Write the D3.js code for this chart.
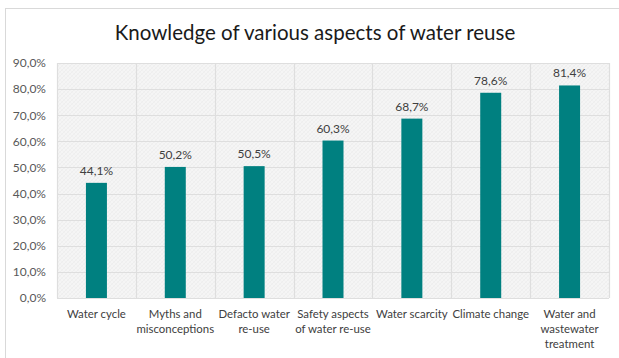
<!DOCTYPE html>
<html>
<head>
<meta charset="utf-8">
<script src="https://cdn.jsdelivr.net/npm/d3@7"></script>
<style>
  html, body { margin: 0; padding: 0; background: #fff; }
  svg { display: block; }
</style>
</head>
<body>
<svg id="chart" width="619" height="358"></svg>
<script>
// Survey results: share of respondents aware of each aspect
const categories = [
  ["Water cycle"],
  ["Myths and", "misconceptions"],
  ["Defacto water", "re-use"],
  ["Safety aspects", "of water re-use"],
  ["Water scarcity"],
  ["Climate change"],
  ["Water and", "wastewater", "treatment"]
];
const values = [44.1, 50.2, 50.5, 60.3, 68.7, 78.6, 81.4];
const yTicks = [0, 10, 20, 30, 40, 50, 60, 70, 80, 90];
const title = "Knowledge of various aspects of water reuse";

const fmt = v => d3.format(".1f")(v).replace(".", ",") + "%";

const svg = d3.select("#chart");
const W = 619, H = 358;
const plot = { left: 57, right: 609, top: 63, bottom: 298 };
const font = "Lato, 'Open Sans', sans-serif";

// Chart frame
svg.append("rect")
  .attr("x", 5.5).attr("y", 8.5)
  .attr("width", W + 10).attr("height", H + 10)
  .attr("fill", "#fff").attr("stroke", "#d9d9d9").attr("stroke-width", 1);

// Fine textured plot background
const defs = svg.append("defs");
const pat = defs.append("pattern")
  .attr("id", "tex").attr("patternUnits", "userSpaceOnUse")
  .attr("width", 4).attr("height", 4);
pat.append("rect").attr("width", 4).attr("height", 4).attr("fill", "#f5f5f5");
pat.append("path").attr("d", "M0,4 L4,0").attr("stroke", "#ececec").attr("stroke-width", 0.8);
pat.append("path").attr("d", "M0,0 L4,4").attr("stroke", "#efefef").attr("stroke-width", 0.6);

const x = d3.scaleBand()
  .domain(d3.range(categories.length))
  .range([plot.left, plot.right])
  .paddingInner(0).paddingOuter(0);

const y = d3.scaleLinear().domain([0, 90]).range([plot.bottom, plot.top]);

svg.append("rect")
  .attr("x", plot.left).attr("y", plot.top)
  .attr("width", plot.right - plot.left).attr("height", plot.bottom - plot.top)
  .attr("fill", "url(#tex)");

// Horizontal gridlines
svg.append("g").selectAll("line").data(yTicks).join("line")
  .attr("x1", plot.left).attr("x2", plot.right)
  .attr("y1", d => Math.round(y(d)) + 0.5).attr("y2", d => Math.round(y(d)) + 0.5)
  .attr("stroke", "#dedede").attr("stroke-width", 1.2);

// Vertical gridlines between categories
const bounds = d3.range(categories.length + 1).map(i => i < categories.length ? x(i) : plot.right);
svg.append("g").selectAll("line").data(bounds).join("line")
  .attr("x1", d => Math.round(d) + 0.5).attr("x2", d => Math.round(d) + 0.5)
  .attr("y1", plot.top).attr("y2", plot.bottom)
  .attr("stroke", "#dedede").attr("stroke-width", 1.2);

// Y axis labels
const yAxis = d3.axisLeft(y).tickValues(yTicks).tickFormat(fmt).tickSize(0).tickPadding(0);
const ya = svg.append("g").attr("transform", `translate(46,0)`).call(yAxis);
ya.select(".domain").remove();
ya.selectAll("text")
  .attr("font-family", font)
  .attr("font-size", 12).attr("fill", "#595959");

// Bars
const barW = 21;
svg.append("g").selectAll("rect").data(values).join("rect")
  .attr("x", (d, i) => x(i) + x.bandwidth() / 2 - barW / 2)
  .attr("y", d => y(d))
  .attr("width", barW)
  .attr("height", d => y(0) - y(d))
  .attr("fill", "#008080");

// Value labels
svg.append("g").selectAll("text").data(values).join("text")
  .attr("x", (d, i) => x(i) + x.bandwidth() / 2)
  .attr("y", d => y(d) - 8)
  .attr("text-anchor", "middle")
  .attr("font-family", font)
  .attr("font-size", 12).attr("fill", "#404040")
  .text(fmt);

// Category labels
const cl = svg.append("g").selectAll("text").data(categories).join("text")
  .attr("x", (d, i) => x(i) + x.bandwidth() / 2)
  .attr("y", 318)
  .attr("text-anchor", "middle")
  .attr("font-family", font)
  .attr("font-size", 11.4).attr("fill", "#404040");
cl.each(function(lines, i) {
  d3.select(this).selectAll("tspan").data(lines).join("tspan")
    .attr("x", x(i) + x.bandwidth() / 2)
    .attr("dy", (d, j) => j === 0 ? 0 : 15)
    .text(d => d);
});

// Title
svg.append("text")
  .attr("x", 315).attr("y", 40)
  .attr("text-anchor", "middle")
  .attr("font-family", font)
  .attr("font-size", 20.5).attr("fill", "#1a1a1a")
  .text(title);
</script>
</body>
</html>
